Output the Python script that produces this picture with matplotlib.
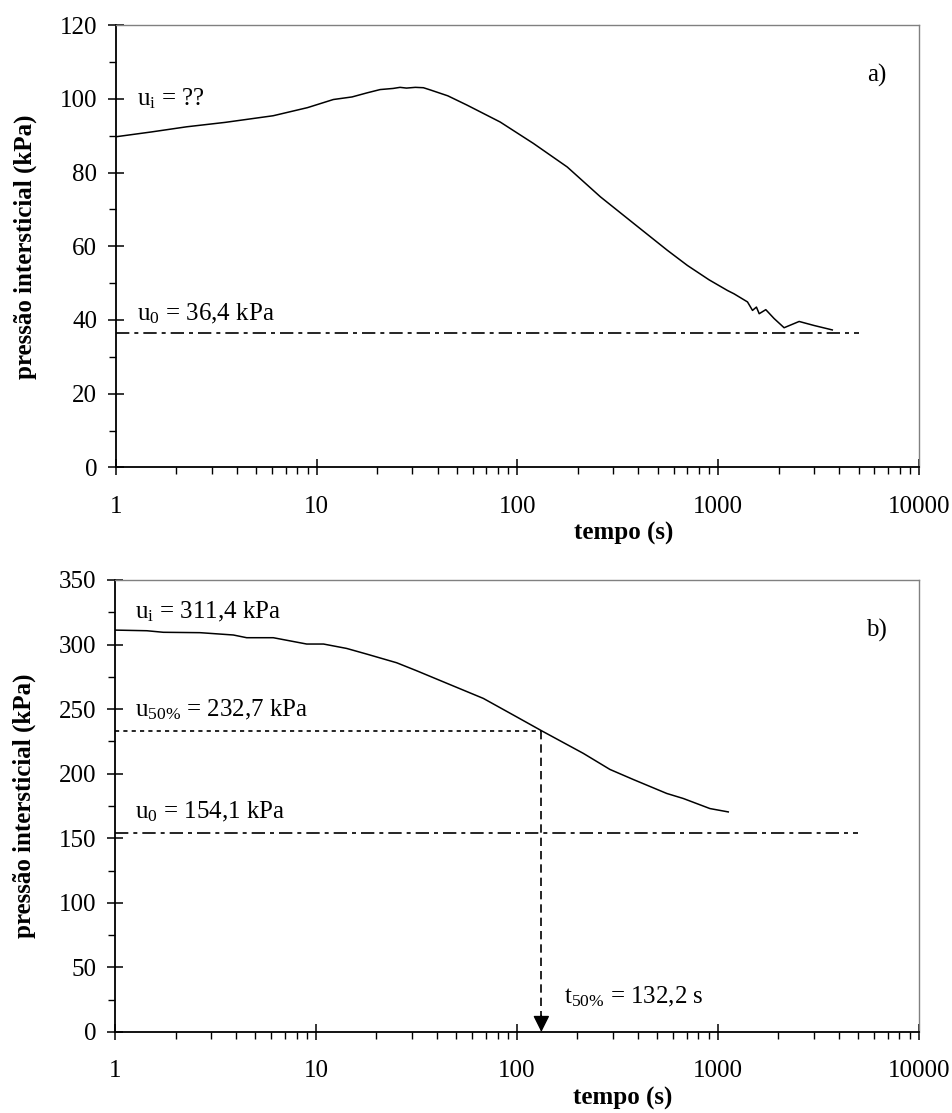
import matplotlib
matplotlib.use("Agg")
import matplotlib.pyplot as plt
from matplotlib.ticker import LogLocator, MultipleLocator, FixedFormatter

plt.rcParams['font.family'] = ['Liberation Serif', 'DejaVu Serif']
plt.rcParams['mathtext.fontset'] = 'custom'
plt.rcParams['mathtext.rm'] = 'Liberation Serif'
plt.rcParams['mathtext.it'] = 'Liberation Serif:italic'

# panel a) - pore pressure dissipation (read from the figure)
t_a = [1, 1.5, 2.25, 3.5, 6.07, 9, 12.1, 15, 17.8, 20.7, 24, 26, 28, 31, 34,
       36.8, 45, 56, 82, 120, 177, 259, 379, 558, 702, 900, 1112, 1199,
       1399, 1482, 1550, 1600, 1726, 1898, 2129, 2530, 3006, 3640, 3700]
u_a = [89.7, 91.0, 92.4, 93.6, 95.4, 97.6, 99.8, 100.5, 101.6, 102.5, 102.8,
       103.1, 102.9, 103.1, 103.0, 102.4, 100.8, 98.3, 93.7, 87.9, 81.5,
       73.4, 66.2, 58.9, 54.8, 50.9, 48.0, 47.1, 44.9, 42.6, 43.5, 41.7,
       42.8, 40.4, 37.9, 39.6, 38.5, 37.4, 37.3]
u0_a = 36.4

# panel b)
t_b = [1, 1.44, 1.74, 2.65, 3.88, 4.52, 6.13, 8.99, 10.9, 14.2, 17.9, 25.2,
       31.7, 46.4, 68, 99.6, 132.7, 214, 290, 379, 556, 672, 912, 1125]
u_b = [311.2, 310.7, 309.5, 309.2, 307.4, 305.3, 305.3, 300.4, 300.4, 297.0,
       292.6, 285.9, 279.7, 269.0, 258.3, 244.0, 233.2, 215.7, 203.3, 195.5,
       184.7, 180.8, 173.0, 170.4]
u0_b = 154.1
u50_b = 232.7
t50_b = 132.2

x_ticks = [1, 10, 100, 1000, 10000]
x_labels = ['1', '10', '100', '1000', '10000']

fig = plt.figure(figsize=(9.52, 11.13), dpi=100)
ax1 = fig.add_axes([0.1218, 0.58, 0.8435, 0.3975])
ax2 = fig.add_axes([0.1208, 0.0728, 0.8445, 0.4061])

dashdot = (0, (8, 3, 2.4, 3))


def style(ax, ymax, ystep):
    ax.set_xscale('log')
    ax.set_xlim(1, 10000)
    ax.set_ylim(0, ymax)
    ax.set_xticks(x_ticks)
    ax.xaxis.set_major_formatter(FixedFormatter(x_labels))
    ax.xaxis.set_minor_locator(LogLocator(base=10, subs=range(2, 10)))
    ax.xaxis.set_minor_formatter(FixedFormatter([]))
    ax.yaxis.set_major_locator(MultipleLocator(ystep))
    ax.yaxis.set_minor_locator(MultipleLocator(ystep / 2))
    ax.tick_params(which='major', direction='inout', length=11, width=1.1,
                   labelsize=18)
    ax.tick_params(which='minor', direction='out', length=5, width=1.0)
    ax.tick_params(axis='x', which='major', pad=15)
    ax.tick_params(axis='y', which='major', pad=8)
    for s in ['left', 'bottom']:
        ax.spines[s].set_linewidth(1.3)
    for s in ['top', 'right']:
        ax.spines[s].set_color('#808080')
        ax.spines[s].set_linewidth(1.0)
    ax.set_ylabel('pressão intersticial (kPa)', fontsize=18, fontweight='bold')
    ax.yaxis.set_label_coords(-0.098, 0.5)
    ax.set_xlabel('tempo (s)', fontsize=18, fontweight='bold')


style(ax1, 120, 20)
ax1.xaxis.set_label_coords(0.632, -0.124)
ax1.plot(t_a, u_a, color='black', lw=1.1)
ax1.plot([1, 5000], [u0_a, u0_a], color='black', lw=1.2, linestyle=dashdot)
ax1.text(0.026, 0.833, r'u$_{\mathrm{i}}$ = ??', transform=ax1.transAxes,
         fontsize=18, va='center', ha='left')
ax1.text(0.026, 0.348, r'u$_{0}$ = 36,4 kPa', transform=ax1.transAxes,
         fontsize=18, va='center', ha='left')
ax1.text(0.96, 0.887, 'a)', transform=ax1.transAxes, fontsize=18,
         va='center', ha='right')

style(ax2, 350, 50)
ax2.xaxis.set_label_coords(0.632, -0.122)
ax2.plot(t_b, u_b, color='black', lw=1.1)
ax2.plot([1, 5000], [u0_b, u0_b], color='black', lw=1.2, linestyle=dashdot)
ax2.plot([1, t50_b], [u50_b, u50_b], color='black', lw=1.2,
         linestyle=(0, (2.5, 2.5)))
ax2.plot([t50_b, t50_b], [u50_b, 8], color='black', lw=1.2,
         linestyle=(0, (5, 3)))
ax2.annotate('', xy=(t50_b, 0), xytext=(0, 12), textcoords='offset points',
             arrowprops=dict(arrowstyle='-|>,head_length=0.5,head_width=0.25',
                             color='black', lw=1.0, shrinkA=0, shrinkB=0,
                             mutation_scale=20))
ax2.text(0.025, 0.93, r'u$_{\mathrm{i}}$ = 311,4 kPa', transform=ax2.transAxes,
         fontsize=18, va='center', ha='left')
ax2.text(0.025, 0.712, r'u$_{50\%}$ = 232,7 kPa', transform=ax2.transAxes,
         fontsize=18, va='center', ha='left')
ax2.text(0.025, 0.487, r'u$_{0}$ = 154,1 kPa', transform=ax2.transAxes,
         fontsize=18, va='center', ha='left')
ax2.text(0.96, 0.889, 'b)', transform=ax2.transAxes, fontsize=18,
         va='center', ha='right')
ax2.text(0.558, 0.077, r't$_{50\%}$ = 132,2 s', transform=ax2.transAxes,
         fontsize=18, va='center', ha='left')

fig.savefig('out.png', dpi=100)
